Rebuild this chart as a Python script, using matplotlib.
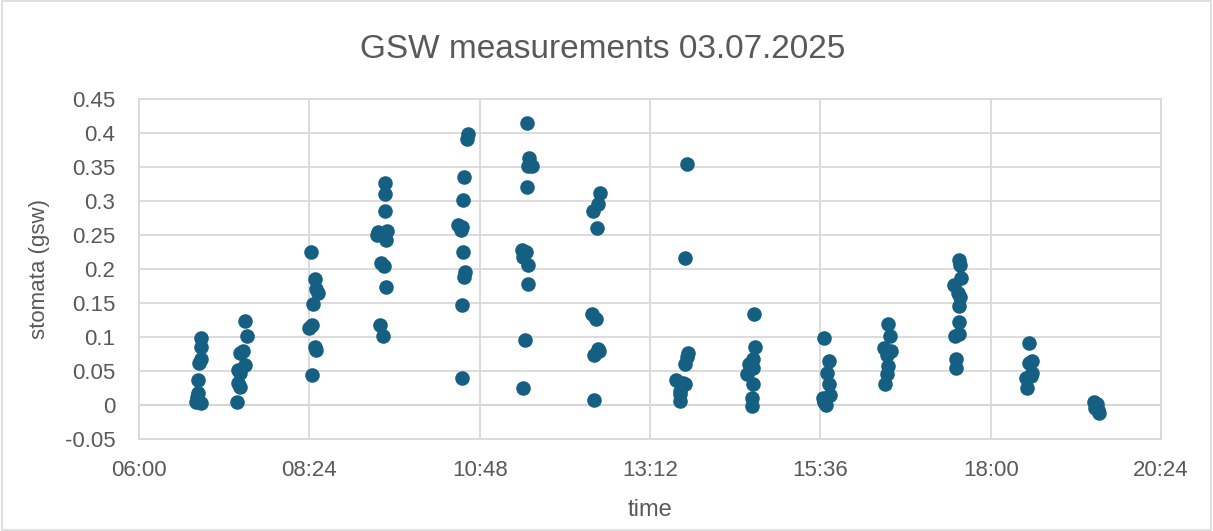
import numpy as np
import matplotlib
matplotlib.use('Agg')
from matplotlib import pyplot as plt
from matplotlib.ticker import FuncFormatter
from matplotlib.patches import Rectangle

# measurement times (HH:MM) and stomatal conductance
times = [
    "06:52", "06:52", "06:52", "06:51", "06:50", "06:50", "06:49", "06:48", "06:52",
    "07:30", "07:31", "07:28", "07:25", "07:30", "07:25", "07:24", "07:25", "07:24", "07:23",
    "08:25", "08:29", "08:30", "08:31", "08:27", "08:26", "08:24", "08:29", "08:30", "08:26",
    "09:28", "09:28", "09:28", "09:22", "09:30", "09:29", "09:21", "09:25", "09:27", "09:29", "09:24", "09:26",
    "10:38", "10:37", "10:35", "10:34", "10:30", "10:33", "10:32", "10:34", "10:36", "10:35", "10:33", "10:33",
    "11:28", "11:30", "11:29", "11:32", "11:28", "11:24", "11:27", "11:25", "11:29", "11:29", "11:26", "11:25",
    "12:30", "12:28", "12:24", "12:27", "12:23", "12:26", "12:28", "12:29", "12:25", "12:25",
    "13:43", "13:42", "13:44", "13:43", "13:42", "13:34", "13:40", "13:42", "13:37", "13:37", "13:37",
    "14:40", "14:41", "14:39", "14:36", "14:39", "14:34", "14:39", "14:38", "14:38",
    "15:39", "15:43", "15:42", "15:43", "15:44", "15:38", "15:39", "15:41",
    "16:33", "16:35", "16:30", "16:36", "16:32", "16:33", "16:32", "16:31",
    "17:33", "17:34", "17:35", "17:29", "17:32", "17:34", "17:33", "17:33", "17:30", "17:33", "17:31", "17:31",
    "18:32", "18:32", "18:35", "18:35", "18:34", "18:30", "18:31",
    "19:27", "19:30", "19:29", "19:28", "19:31", "19:32",
]
gsw = [
    0.099, 0.085, 0.068, 0.062, 0.037, 0.018, 0.012, 0.005, 0.003,
    0.123, 0.102, 0.079, 0.076, 0.059, 0.047, 0.051, 0.027, 0.032, 0.004,
    0.225, 0.186, 0.170, 0.165, 0.148, 0.118, 0.113, 0.085, 0.081, 0.044,
    0.327, 0.310, 0.286, 0.255, 0.256, 0.243, 0.250, 0.209, 0.205, 0.174, 0.118, 0.101,
    0.399, 0.391, 0.336, 0.302, 0.265, 0.262, 0.258, 0.225, 0.195, 0.188, 0.147, 0.040,
    0.415, 0.363, 0.351, 0.351, 0.321, 0.228, 0.225, 0.218, 0.206, 0.178, 0.095, 0.025,
    0.312, 0.296, 0.286, 0.261, 0.134, 0.126, 0.082, 0.079, 0.074, 0.008,
    0.354, 0.216, 0.076, 0.070, 0.060, 0.037, 0.033, 0.031, 0.020, 0.016, 0.006,
    0.134, 0.086, 0.067, 0.060, 0.055, 0.046, 0.031, 0.010, -0.002,
    0.098, 0.064, 0.047, 0.031, 0.014, 0.010, 0.005, 0.000,
    0.119, 0.102, 0.084, 0.079, 0.073, 0.057, 0.045, 0.031,
    0.213, 0.206, 0.187, 0.177, 0.165, 0.159, 0.145, 0.122, 0.102, 0.105, 0.068, 0.054,
    0.091, 0.062, 0.064, 0.047, 0.043, 0.040, 0.025,
    0.005, 0.002, 0.000, -0.005, -0.008, -0.012,
]

# axis ticks (fraction of a day, like Excel time values)
x_ticks = [0.25, 0.35, 0.45, 0.55, 0.65, 0.75, 0.85]
y_ticks = [-0.05, 0, 0.05, 0.1, 0.15, 0.2, 0.25, 0.3, 0.35, 0.4, 0.45]
y_labels = ["-0.05", "0", "0.05", "0.1", "0.15", "0.2", "0.25", "0.3", "0.35", "0.4", "0.45"]


def day_fraction(s):
    h, m = s.split(":")
    return (int(h) * 60 + int(m)) / 1440.0


def fmt_time(x, pos):
    total = int(round(x * 1440))
    return "%02d:%02d" % (total // 60, total % 60)


plt.rcParams['font.family'] = ['Liberation Sans', 'DejaVu Sans']

x = np.array([day_fraction(t) for t in times])
y = np.array(gsw)

fig = plt.figure(figsize=(12.13, 5.31), dpi=100)
ax = fig.add_axes([139 / 1213, 1 - 439 / 531, (1161 - 139) / 1213, (439 - 99) / 531])

grid_col = '#d9d9d9'
text_col = '#595959'

ax.scatter(x, y, s=110, color='#156082', zorder=3, linewidths=0)

ax.set_xlim(0.25, 0.85)
ax.set_ylim(-0.05, 0.45)
ax.set_xticks(x_ticks)
ax.set_yticks(y_ticks)
ax.set_yticklabels(y_labels)
ax.xaxis.set_major_formatter(FuncFormatter(fmt_time))

ax.grid(True, color=grid_col, linewidth=1.3, zorder=0)
ax.axhline(0, color='#bfbfbf', linewidth=1.5, zorder=1)
for sp in ax.spines.values():
    sp.set_color(grid_col)
    sp.set_linewidth(1.3)
ax.tick_params(length=0, labelsize=16, colors=text_col)
ax.tick_params(axis='y', pad=17)
ax.tick_params(axis='x', pad=15)

fig.text(0.497, 1 - 49 / 531, "GSW measurements 03.07.2025", fontsize=24,
         color=text_col, ha='center', va='center')
ax.set_xlabel('time', fontsize=17, color=text_col, va='center')
ax.set_ylabel('stomata (gsw)', fontsize=16, color=text_col, va='center')
ax.xaxis.set_label_coords(0.5, (439 - 510) / 340)
ax.yaxis.set_label_coords((40 - 139) / 1022, 0.5)

# outer chart border
fig.patches.append(Rectangle((0.002, 0.002), 0.996, 0.996, transform=fig.transFigure,
                             fill=False, edgecolor='#d9d9d9', linewidth=1.2))

plt.savefig('out.png', dpi=100)
